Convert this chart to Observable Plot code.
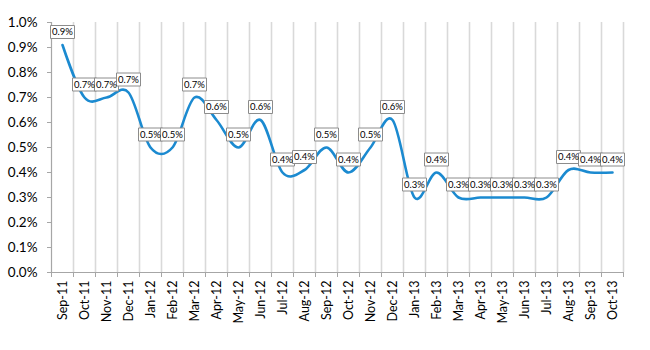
<!DOCTYPE html>
<html>
<head>
<meta charset="utf-8">
<script src="https://cdn.jsdelivr.net/npm/d3@7"></script>
<script src="https://cdn.jsdelivr.net/npm/@observablehq/plot@0.6"></script>
<style>
  html, body { margin: 0; padding: 0; background: #fff; }
</style>
</head>
<body>
<div id="chart"></div>
<script>
const months = ["Sep-11","Oct-11","Nov-11","Dec-11","Jan-12","Feb-12","Mar-12","Apr-12","May-12","Jun-12","Jul-12","Aug-12","Sep-12","Oct-12","Nov-12","Dec-12","Jan-13","Feb-13","Mar-13","Apr-13","May-13","Jun-13","Jul-13","Aug-13","Sep-13","Oct-13"];
const rates = [0.91,0.70,0.70,0.72, 0.50,0.50,0.70,0.61,0.50,0.61,0.40,0.41,0.50,0.40,0.50,0.61, 0.30,0.40,0.30,0.30,0.30,0.30,0.30,0.41,0.40,0.40];
const yTicks = [0,0.1,0.2,0.3,0.4,0.5,0.6,0.7,0.8,0.9,1.0];

const rows = months.map((m, i) => ({i, month: m, rate: rates[i]}));
const centers = rows.map(d => d.i);
const edges = d3.range(months.length + 1).map(i => i - 0.5);

const boxSymbol = {
  draw(context, size) {
    context.moveTo(-12, -6.5);
    context.lineTo(12, -6.5);
    context.lineTo(12, 6.5);
    context.lineTo(-12, 6.5);
    context.closePath();
  }
};

const chart = Plot.plot({
  width: 650,
  height: 350,
  marginLeft: 51,
  marginRight: 27,
  marginTop: 22,
  marginBottom: 78,
  style: {fontFamily: "Lato, 'Open Sans', sans-serif", fontSize: "12px", color: "#000", background: "#fff"},
  x: {type: "linear", domain: [-0.5, months.length - 0.5], axis: null, label: null},
  y: {domain: [0, 1.0], axis: null, label: null},
  marks: [
    Plot.ruleX(edges.slice(1), {stroke: "#d9d9d9", strokeWidth: 1.6}),
    Plot.ruleY([0], {stroke: "#a6a6a6", strokeWidth: 1.2}),
    Plot.ruleX([edges[0]], {stroke: "#a6a6a6", strokeWidth: 1.2}),
    Plot.axisX(edges, {tickSize: 5, tickFormat: () => "", stroke: "#a6a6a6", label: null}),
    Plot.axisX(centers, {tickSize: 0, tickPadding: 8, tickRotate: -90, tickFormat: i => months[i], fontSize: 12.5, fill: "#000", label: null}),
    Plot.axisY(yTicks, {tickSize: 4, tickPadding: 10, tickFormat: d => d.toFixed(1) + "%", fontSize: 13.5, fill: "#000", stroke: "#a6a6a6", label: null}),
    Plot.line(rows, {x: "i", y: "rate", curve: "cardinal", stroke: "#1b8ad0", strokeWidth: 2.6}),
    Plot.dot(rows, {x: "i", y: "rate", symbol: boxSymbol, fill: "#fff", stroke: "#8c8c8c", strokeWidth: 1, dy: -13}),
    Plot.text(rows, {x: "i", y: "rate", text: d => d.rate.toFixed(1) + "%", dy: -13, fontSize: 9.5, fill: "#000"})
  ]
});
document.getElementById("chart").appendChild(chart);
</script>
</body>
</html>
